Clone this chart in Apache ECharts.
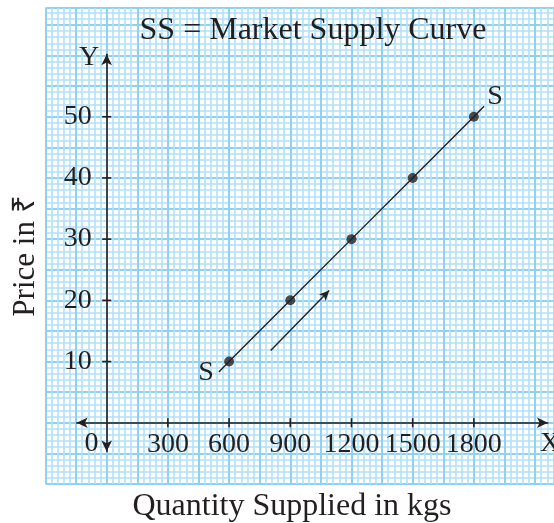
<!DOCTYPE html>
<html>
<head>
<meta charset="utf-8">
<script src="https://cdn.jsdelivr.net/npm/echarts@6/dist/echarts.min.js"></script>
<style>html,body{margin:0;padding:0;background:#fff;}#c{width:554px;height:523px;}</style>
</head>
<body>
<div id="c"></div>
<script>
// ---- data ----
const quantity = [600, 900, 1200, 1500, 1800];
const price = [10, 20, 30, 40, 50];
const xTicks = [300, 600, 900, 1200, 1500, 1800];
const yTicks = [10, 20, 30, 40, 50];
const curveEnds = [[550, 8.3], [1850, 51.7]];
const movePath = [[804, 11.8], [1091, 21.6]];
const titleText = 'SS = Market Supply Curve';
const xName = 'Quantity Supplied in kgs';
const yName = 'Price in ₹';

const ink = '#231f20';
const serif = 'Liberation Serif, Times New Roman, serif';

const points = quantity.map((q, i) => [q, price[i]]);
const curve = [curveEnds[0]].concat(points, [curveEnds[1]]);

function txt(text, x, y, size, extra) {
  return Object.assign({
    type: 'text', x: x, y: y, z: 100, silent: true,
    style: {text: text, font: size + 'px ' + serif, fill: ink,
      align: 'center', verticalAlign: 'middle', textAlign: 'center', textVerticalAlign: 'middle'}
  }, extra || {});
}

const chart = echarts.init(document.getElementById('c'), null, {renderer: 'canvas'});
chart.setOption({
  backgroundColor: '#ffffff',
  animation: false,
  grid: [
    {left: 45.5, top: 8, width: 508.5, height: 475.9},
    {left: 76.7, top: 54.3, width: 471.2, height: 397.2}
  ],
  xAxis: [
    {
      gridIndex: 0, type: 'value', min: -300, max: 2192.6, interval: 150,
      axisLine: {show: false}, axisTick: {show: false}, axisLabel: {show: false},
      splitLine: {show: true, lineStyle: {color: '#8ed2f1', width: 2}},
      minorTick: {show: false, splitNumber: 5},
      minorSplitLine: {show: true, lineStyle: {color: '#b1e1f7', width: 1.6}}
    },
    {
      gridIndex: 1, type: 'value', min: -147, max: 2163,
      axisLine: {show: true, onZero: true, symbol: ['arrow', 'arrow'], symbolSize: [8, 11],
        lineStyle: {color: ink, width: 1.6}},
      axisTick: {show: false}, axisLabel: {show: false},
      splitLine: {show: false}
    }
  ],
  yAxis: [
    {
      gridIndex: 0, type: 'value', min: -10, max: 67.76, interval: 5,
      axisLine: {show: false}, axisTick: {show: false}, axisLabel: {show: false},
      splitLine: {show: true, lineStyle: {color: '#8ed2f1', width: 2}},
      minorTick: {show: false, splitNumber: 5},
      minorSplitLine: {show: true, lineStyle: {color: '#b1e1f7', width: 1.6}}
    },
    {
      gridIndex: 1, type: 'value', min: -4.7, max: 60.2,
      axisLine: {show: true, onZero: true, symbol: ['arrow', 'arrow'], symbolSize: [8, 11],
        lineStyle: {color: ink, width: 1.6}},
      axisTick: {show: false}, axisLabel: {show: false},
      splitLine: {show: false}
    }
  ],
  series: [
    {
      type: 'line', xAxisIndex: 1, yAxisIndex: 1, data: curve, z: 5,
      showSymbol: false, symbol: 'none', silent: true,
      lineStyle: {color: ink, width: 1.4},
      markLine: {
        silent: true, symbol: ['none', 'arrow'], symbolSize: [7, 10],
        label: {show: false},
        lineStyle: {color: ink, width: 1.4, type: 'solid'},
        data: [[{coord: movePath[0]}, {coord: movePath[1]}]]
      }
    },
    {
      type: 'scatter', xAxisIndex: 1, yAxisIndex: 1, data: points, z: 6,
      symbol: 'circle', symbolSize: 10, silent: true,
      itemStyle: {color: ink}
    },
    {
      type: 'scatter', xAxisIndex: 1, yAxisIndex: 1, z: 20,
      data: xTicks.map(v => [v, 0]),
      symbol: 'rect', symbolSize: [1.6, 9], silent: true,
      itemStyle: {color: ink, opacity: 1},
      label: {show: true, position: 'bottom', distance: 3.5, fontSize: 28, fontFamily: serif,
        color: ink, opacity: 1, textBorderWidth: 0, formatter: p => String(p.value[0])}
    },
    {
      type: 'scatter', xAxisIndex: 1, yAxisIndex: 1, z: 20,
      data: yTicks.map(v => [0, v]),
      symbol: 'rect', symbolSize: [9, 1.6], silent: true,
      itemStyle: {color: ink, opacity: 1},
      label: {show: true, position: 'left', distance: 10.5, fontSize: 28, fontFamily: serif,
        color: ink, opacity: 1, textBorderWidth: 0, formatter: p => String(p.value[1])}
    }
  ],
  graphic: [
    txt(titleText, 313, 31, 32),
    txt('0', 91.5, 444, 28),
    txt('X', 550, 444, 28),
    txt('Y', 89, 58, 28),
    txt('S', 206, 373, 28),
    txt('S', 495, 97, 28),
    txt(xName, 292, 507, 32),
    txt(yName, 26, 256, 31, {rotation: Math.PI / 2})
  ]
});
</script>
</body>
</html>
